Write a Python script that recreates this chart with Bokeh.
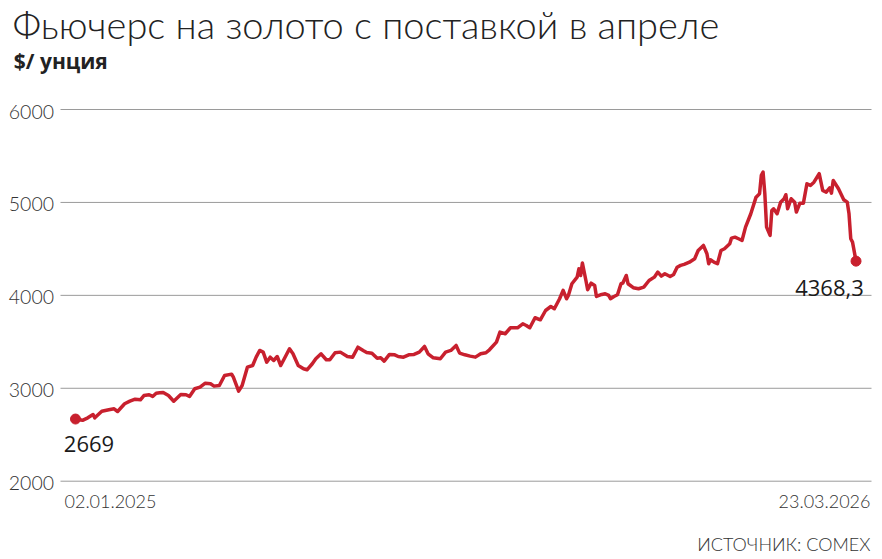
import pandas as pd
from bokeh.plotting import figure
from bokeh.models import Range1d, Label, ColumnDataSource
from bokeh.core.properties import value
from bokeh.embed import file_html
from bokeh.resources import INLINE

title_text = "Фьючерс на золото с поставкой в апреле"
unit_text = "$/ унция"
source_text = "ИСТОЧНИК: COMEX"
start_date = "2025-01-02"
start_label = "02.01.2025"
end_label = "23.03.2026"
y_ticks = [2000, 3000, 4000, 5000, 6000]

# calendar-day offsets from 02.01.2025 and price, $/oz
day_offsets = [
    0, 4, 7, 10, 11, 15, 19, 22, 24, 28, 31, 34, 37, 39, 42, 44, 46, 48, 50, 53,
    56, 60, 63, 65, 68, 71, 74, 77, 79, 82, 85, 89, 90, 93, 95, 98, 101, 103, 105, 107,
    109, 111, 113, 115, 117, 120, 122, 124, 125, 127, 130, 132, 135, 137, 140, 143, 145, 148, 151, 155,
    158, 161, 164, 166, 169, 172, 174, 176, 179, 182, 184, 187, 190, 193, 196, 199, 201, 204, 208, 211,
    214, 217, 219, 222, 225, 228, 231, 234, 236, 240, 242, 245, 248, 252, 255, 257, 259, 262, 265, 268,
    271, 273, 276, 278, 280, 281, 283, 286, 287, 288, 289, 291, 292, 294, 296, 297, 300, 302, 304, 305,
    307, 309, 311, 312, 314, 315, 318, 321, 324, 327, 330, 332, 334, 336, 339, 341, 343, 345, 347, 350,
    353, 355, 358, 360, 361, 362, 364, 366, 368, 370, 373, 374, 376, 378, 380, 382, 385, 388, 390, 391,
    392, 393, 394, 396, 397, 398, 400, 402, 404, 405, 406, 408, 410, 411, 413, 415, 417, 419, 421, 424,
    426, 428, 430, 431, 432, 435, 438, 440, 441, 442, 443, 445,
]
prices = [
    2669, 2655, 2682, 2718, 2682, 2753, 2769, 2779, 2750, 2833, 2861, 2883, 2876, 2922, 2930, 2912, 2947, 2952, 2955, 2922,
    2861, 2933, 2930, 2912, 2995, 3012, 3055, 3048, 3023, 3030, 3138, 3152, 3119, 2969, 3030, 3227, 3245, 3335, 3407, 3389,
    3281, 3335, 3299, 3342, 3245, 3353, 3425, 3371, 3328, 3245, 3210, 3199, 3264, 3318, 3371, 3307, 3307, 3382, 3389, 3342,
    3335, 3442, 3407, 3385, 3378, 3324, 3328, 3292, 3364, 3360, 3342, 3335, 3360, 3364, 3389, 3450, 3371, 3328, 3318, 3389,
    3407, 3461, 3378, 3360, 3346, 3335, 3371, 3382, 3414, 3496, 3604, 3587, 3651, 3651, 3694, 3676, 3651, 3759, 3737, 3837,
    3880, 3856, 3963, 4053, 3963, 3999, 4125, 4196, 4286, 4214, 4347, 4160, 4060, 4131, 4107, 3988, 4010, 4017, 3999, 3963,
    3988, 4006, 4125, 4131, 4214, 4125, 4082, 4071, 4088, 4160, 4196, 4250, 4207, 4232, 4203, 4225, 4303, 4322, 4333, 4357,
    4394, 4483, 4537, 4448, 4340, 4383, 4357, 4340, 4483, 4502, 4555, 4616, 4626, 4609, 4591, 4734, 4878, 5057, 5094, 5291,
    5326, 5094, 4734, 4645, 4914, 4932, 4878, 5003, 5040, 5083, 4932, 5040, 5003, 4896, 4992, 4992, 5201, 5183, 5218, 5309,
    5129, 5111, 5158, 5100, 5237, 5147, 5029, 5003, 4878, 4609, 4573, 4368.3,
]

RED = "#c8202e"
LIGHT = "Lato Light"
REG = "Open Sans"
W, H = 880, 556

# layout: pixel scale of the plotting area
PX_PER_DAY = 1.754
DAY0_PX = 75.0
Y2000_PX, PX_PER_USD = 480.7, 0.092925

start = pd.Timestamp(start_date)

def xday(px):
    return start + pd.Timedelta(days=(px - DAY0_PX) / PX_PER_DAY)

def xms(px):
    return xday(px).value / 1e6

def yval(py):
    return 2000 + (Y2000_PX - py) / PX_PER_USD

dates = start + pd.to_timedelta(day_offsets, unit="D")
src = ColumnDataSource(dict(date=dates, price=prices))
ends = ColumnDataSource(dict(date=[dates[0], dates[-1]], price=[prices[0], prices[-1]]))

grid_left, grid_right = xday(60), xday(871)
grid = ColumnDataSource(dict(x0=[grid_left] * len(y_ticks), x1=[grid_right] * len(y_ticks),
                             y=y_ticks, lab=[str(t) for t in y_ticks]))

p = figure(width=W, height=H, x_axis_type="datetime",
           x_axis_location=None, y_axis_location=None,
           x_range=Range1d(xms(0), xms(W)), y_range=Range1d(yval(H), yval(0)),
           output_backend="svg", toolbar_location=None, min_border=0)
p.outline_line_color = None
p.grid.visible = False
p.background_fill_color = "white"
p.border_fill_color = "white"

p.segment(x0="x0", y0="y", x1="x1", y1="y", source=grid, line_color="#9a9a9a", line_width=1)
p.text(x="x0", y="y", text="lab", source=grid, text_align="right", text_baseline="middle",
       x_offset=-6.5, y_offset=2, text_font=value(LIGHT), text_font_size="19.5px", text_color="#333333")

p.line("date", "price", source=src, line_color=RED, line_width=3.5, line_join="round")
p.scatter("date", "price", source=ends, size=10, color=RED)

def lab(px, py, text, font, size, align="left", style="normal", color="#333333"):
    shift = 0.41 * size
    p.add_layout(Label(x=xms(px), y=yval(py - shift), text=text, text_font=font,
                       text_font_size=f"{size}px", text_align=align, text_baseline="alphabetic",
                       text_font_style=style, text_color=color))

lab(12, 39, title_text, LIGHT, 38, color="#222222")
lab(13.3, 69, unit_text, REG, 21, style="bold", color="#222222")
lab(63.3, 452.3, f"{prices[0]:g}", REG, 22, color="#1a1a1a")
lab(863.3, 296.7, f"{prices[-1]:.1f}".replace(".", ","), REG, 22, align="right", color="#1a1a1a")
lab(64, 508, start_label, LIGHT, 18)
lab(870, 508, end_label, LIGHT, 18, align="right")
lab(870, 550.5, source_text, LIGHT, 18, align="right")

open("out.html", "w").write(file_html(p, INLINE))
